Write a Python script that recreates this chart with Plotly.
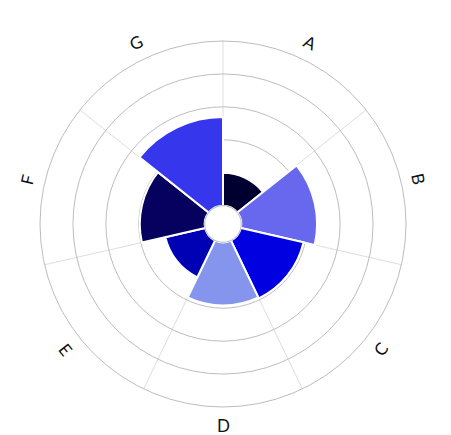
"""
Полярная столбчатая диаграмма (роза) по категориям A–G.
"""

import math

import plotly.graph_objects as go

# Данные
categories = ['A', 'B', 'C', 'D', 'E', 'F', 'G']
values = [1.0, 2.3, 1.95, 1.92, 1.24, 1.97, 2.69]
colors = ['#000030', '#6868ee', '#0000e0', '#8595ee', '#0000b4', '#06005e', '#3636ec']
radial_ticks = [0, 1, 2, 3, 4, 5]

# Размеры области построения (страница сдвигает фигуру на 8px отступа body)
W, H = 451, 435
margin = dict(l=30, r=51, t=33, b=36)
plot_w = W - margin['l'] - margin['r']
plot_h = H - margin['t'] - margin['b']

n = len(categories)
step = 360 / n
theta = [i * step + step / 2 for i in range(n)]  # центры секторов
bounds = [i * step for i in range(n)]            # границы секторов

fig = go.Figure(go.Barpolar(
    r=values,
    theta=theta,
    width=[step] * n,
    marker=dict(color=colors, line=dict(color='white', width=2)),
    text=categories,
    hoverinfo='text+r',
))

fig.update_layout(
    width=W, height=H,
    margin=margin,
    paper_bgcolor='white',
    showlegend=False,
    font=dict(family='Lato, "Noto Sans", sans-serif', color='#222'),
    polar=dict(
        bgcolor='white',
        hole=0.1,
        radialaxis=dict(range=[radial_ticks[0], radial_ticks[-1]], tickvals=radial_ticks,
                        showticklabels=False, ticks='', showline=False,
                        gridcolor='#bdbdbd', gridwidth=1),
        angularaxis=dict(direction='clockwise', rotation=90, tickvals=bounds,
                         showticklabels=False, ticks='',
                         linecolor='#bdbdbd', linewidth=1,
                         gridcolor='#dedede', gridwidth=1),
    ),
)

# Подписи категорий вдоль окружности (повёрнуты по касательной)
label_r = 201
annotations = []
for cat, t in zip(categories, theta):
    rad = math.radians(t)
    ang = t if t <= 90 or t >= 270 else t - 180
    if ang > 180:
        ang -= 360
    annotations.append(dict(
        x=0.5 + label_r * math.sin(rad) / plot_w,
        y=0.5 + label_r * math.cos(rad) / plot_h,
        xref='paper', yref='paper', text=cat, showarrow=False,
        xanchor='center', yanchor='middle', textangle=ang,
        font=dict(size=17, color='#111'),
    ))
fig.update_layout(annotations=annotations)

fig.write_html("out.html")
